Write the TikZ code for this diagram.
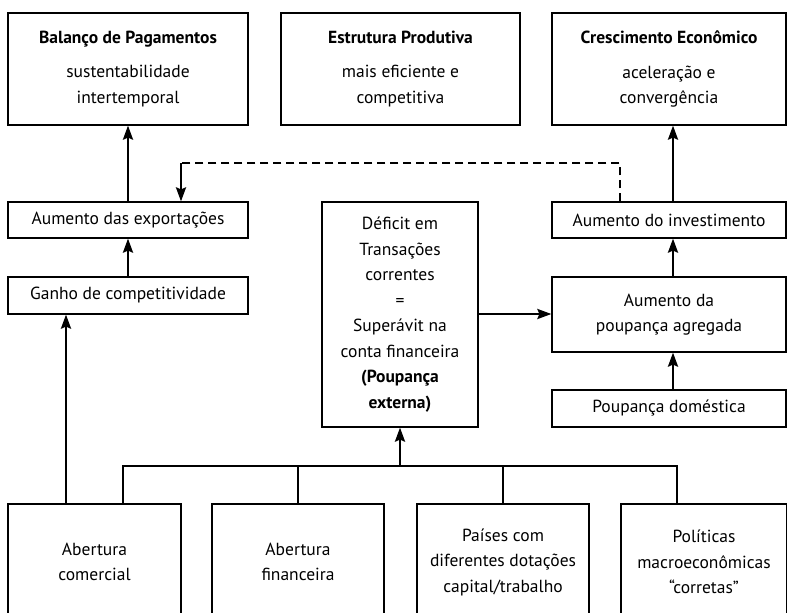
\documentclass[tikz,border=0pt]{standalone}
\usepackage{fontspec}
\setmainfont{PT Sans}
\usetikzlibrary{arrows.meta}
\begin{document}
\begin{tikzpicture}[x=1pt,y=-1pt,
  box/.style={draw,line width=1.2pt,align=center,inner sep=0pt,font=\fontsize{17.5}{25.5}\selectfont},
  conn/.style={line width=2.4pt},
  arr/.style={conn,-{Stealth[length=14pt,width=10pt,inset=2pt]}}]
\useasboundingbox (0,0) rectangle (787,613);
\clip (0,0) rectangle (787,613);
% top row
\node[box,minimum width=240pt,minimum height=112pt] (bp) at (128,69)
  {\textbf{Balanço de Pagamentos}\\[9pt]sustentabilidade\\intertemporal};
\node[box,minimum width=239pt,minimum height=112pt] (ep) at (400.5,69)
  {\textbf{Estrutura Produtiva}\\[9pt]mais eficiente e\\competitiva};
\node[box,minimum width=234pt,minimum height=112pt] (ce) at (669,69)
  {\textbf{Crescimento Econômico}\\[9pt]aceleração e\\convergência};
% left column
\node[box,minimum width=240pt,minimum height=36pt] (ae) at (128,220) {Aumento das exportações};
\node[box,minimum width=240pt,minimum height=37pt] (gc) at (128,295.5) {Ganho de competitividade};
% centre
\node[box,minimum width=156pt,minimum height=225pt] (df) at (400,314.5)
  {Déficit em\\Transações\\correntes\\=\\Superávit na\\conta financeira\\\textbf{(Poupança}\\\textbf{externa)}};
% right column
\node[box,minimum width=234pt,minimum height=36pt] (ai) at (669,220) {Aumento do investimento};
\node[box,minimum width=234pt,minimum height=75pt] (pa) at (669,314.5) {Aumento da\\poupança agregada};
\node[box,minimum width=234pt,minimum height=37pt] (pd) at (669,408.5) {Poupança doméstica};
% bottom row
\node[box,minimum width=173pt,minimum height=116pt] (b1) at (94.5,562) {Abertura\\comercial};
\node[box,minimum width=172pt,minimum height=116pt] (b2) at (298,562) {Abertura\\financeira};
\node[box,minimum width=172pt,minimum height=116pt] (b3) at (503,562) {Países com\\diferentes dotações\\capital/trabalho};
\node[box,minimum width=166pt,minimum height=116pt] (b4) at (704,562) {Políticas\\macroeconômicas\\“corretas”};
% connectors
\draw[arr] (ae.north) -- (bp.south);
\draw[arr] (gc.north) -- (ae.south);
\draw[arr] ([xshift=4pt]ai.north) -- ([xshift=4pt]ce.south);
\draw[arr] ([xshift=4pt]pa.north) -- ([xshift=4pt]ai.south);
\draw[arr] ([xshift=4pt]pd.north) -- ([xshift=4pt]pa.south);
\draw[arr] (df.east |- 0,314) -- (pa.west |- 0,314);
\coordinate (dk) at (181,163);
\draw[conn,dash pattern=on 8pt off 5pt] ([xshift=-49pt]ai.north) -- ([xshift=-49pt]ai.north |- dk) -- (dk);
\draw[arr] (dk) -- (dk |- ae.north);
\coordinate (busL) at (123,466);
\coordinate (busR) at (677,466);
\draw[conn,line cap=rect] (busL) -- (busR);
\draw[conn] (busL) -- (busL |- b1.north);
\draw[conn] (298,466) -- (b2.north);
\draw[conn] (b3.north |- busL) -- (b3.north);
\draw[conn] (busR) -- (busR |- b4.north);
\draw[arr] (df.south |- busL) -- (df.south);
\draw[arr] ([xshift=-28.5pt]b1.north) -- (gc.south -| 66,0);
\end{tikzpicture}
\end{document}
